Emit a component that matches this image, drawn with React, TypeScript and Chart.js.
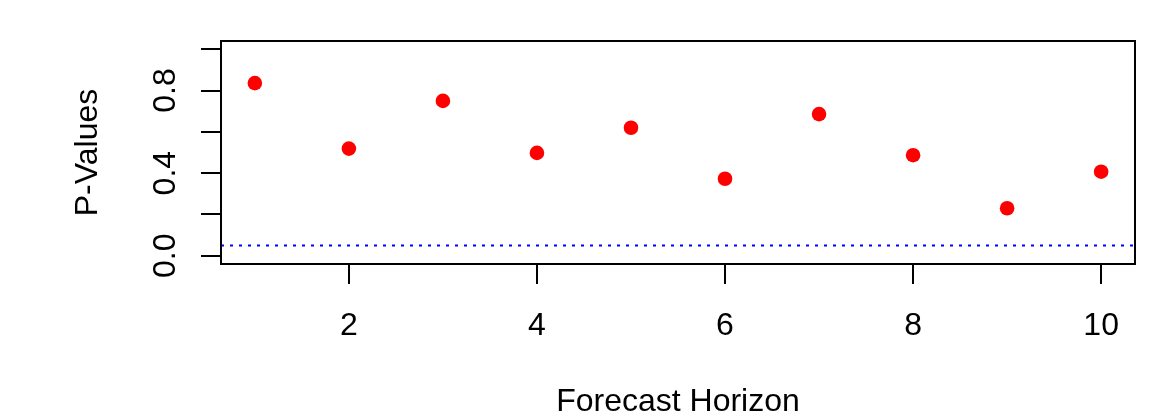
import React, { useEffect, useRef } from "react";
import { Chart, registerables } from "chart.js";

Chart.register(...registerables);

// Forecast horizons and the test p-value at each horizon
const horizons = [1, 2, 3, 4, 5, 6, 7, 8, 9, 10];
const pValues = [0.836, 0.519, 0.75, 0.498, 0.62, 0.373, 0.686, 0.487, 0.23, 0.407];

// Significance level drawn as a dotted reference line
const alphaLevel = 0.05;

// Axis ticks and the labels printed beside them
const xTicks = [2, 4, 6, 8, 10];
const yTicks = [0, 0.2, 0.4, 0.6, 0.8, 1.0];
const yTickLabels = ["0.0", "", "0.4", "", "0.8", ""];

const xTitle = "Forecast Horizon";
const yTitle = "P-Values";

const FONT = '32px "Liberation Sans", Arial, Helvetica, sans-serif';
const INK = "#000000";

// Base-graphics style axis text: tick labels and axis titles
const axisText = {
  id: "axisText",
  afterDraw(chart: any) {
    const { ctx, chartArea, scales } = chart;
    const xs = scales.x;
    const ys = scales.y;
    ctx.save();
    // frame around the plotting region
    ctx.strokeStyle = INK;
    ctx.lineWidth = 2;
    ctx.strokeRect(
      chartArea.left,
      chartArea.top,
      chartArea.right - chartArea.left,
      chartArea.bottom - chartArea.top
    );

    ctx.fillStyle = INK;
    ctx.font = FONT;
    ctx.textAlign = "center";
    ctx.textBaseline = "alphabetic";
    xTicks.forEach((v) => {
      ctx.fillText(String(v), xs.getPixelForValue(v), 335);
    });
    ctx.fillText(xTitle, (chartArea.left + chartArea.right) / 2, 411);

    yTicks.forEach((v, i) => {
      const label = yTickLabels[i];
      if (!label) return;
      ctx.save();
      ctx.translate(175, ys.getPixelForValue(v));
      ctx.rotate(-Math.PI / 2);
      ctx.fillText(label, 0, 0);
      ctx.restore();
    });

    ctx.save();
    ctx.translate(97, (chartArea.top + chartArea.bottom) / 2);
    ctx.rotate(-Math.PI / 2);
    ctx.fillText(yTitle, 0, 0);
    ctx.restore();
    ctx.restore();
  },
};

export default function App() {
  const canvasRef = useRef<HTMLCanvasElement | null>(null);

  useEffect(() => {
    if (!canvasRef.current) return;
    const xMin = 0.64;
    const xMax = 10.36;
    const chart = new Chart(canvasRef.current, {
      type: "scatter",
      data: {
        datasets: [
          {
            label: "p-value",
            data: horizons.map((h, i) => ({ x: h, y: pValues[i] })),
            pointRadius: 7.3,
            pointHoverRadius: 7.3,
            pointBackgroundColor: "#FF0000",
            pointBorderWidth: 0,
            showLine: false,
          },
          {
            label: "alpha",
            data: [
              { x: xMin, y: alphaLevel },
              { x: xMax, y: alphaLevel },
            ],
            showLine: true,
            borderColor: "#0000FF",
            borderWidth: 2,
            borderDash: [3, 6],
            pointRadius: 0,
            fill: false,
          },
        ],
      },
      options: {
        responsive: false,
        animation: false,
        events: [],
        layout: { padding: { top: 41, right: 31, left: 0, bottom: 0 } },
        plugins: {
          legend: { display: false },
          tooltip: { enabled: false },
        },
        scales: {
          x: {
            type: "linear",
            min: xMin,
            max: xMax,
            afterBuildTicks: (scale: any) => {
              scale.ticks = xTicks.map((v) => ({ value: v }));
            },
            afterFit: (scale: any) => {
              scale.height = 152;
            },
            ticks: { display: false },
            border: { display: false },
            grid: {
              drawOnChartArea: false,
              drawTicks: true,
              tickLength: 20,
              color: INK,
              lineWidth: 2,
            },
          },
          y: {
            type: "linear",
            min: -0.04,
            max: 1.04,
            afterBuildTicks: (scale: any) => {
              scale.ticks = yTicks.map((v) => ({ value: v }));
            },
            afterFit: (scale: any) => {
              scale.width = 221;
            },
            ticks: { display: false },
            border: { display: false },
            grid: {
              drawOnChartArea: false,
              drawTicks: true,
              tickLength: 20,
              color: INK,
              lineWidth: 2,
            },
          },
        },
      },
      plugins: [axisText],
    });
    return () => chart.destroy();
  }, []);

  return (
    <div style={{ position: "fixed", left: 0, top: 0, width: 1166, height: 416, background: "#fff" }}>
      <canvas ref={canvasRef} width={1166} height={416} />
    </div>
  );
}
